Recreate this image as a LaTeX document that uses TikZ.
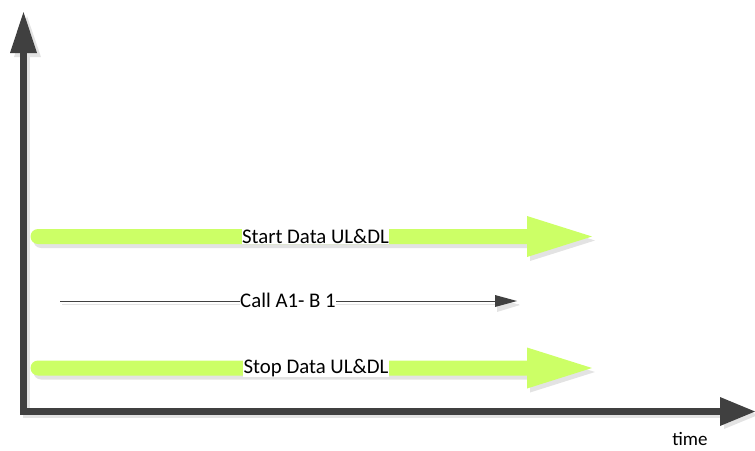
\documentclass[tikz,border=0pt]{standalone}
\usepackage{fontspec}
\setmainfont{Carlito}
\begin{document}
\begin{tikzpicture}[x=1pt,y=-1pt,
  axis/.style={draw=axisgray,line width=7pt},
  axishead/.style={fill=axisgray},
  shade/.style={fill=shadowgray},
  greenfill/.style={fill=lime},
  lbl/.style={fill=white,inner sep=0.5pt,font=\fontsize{20.8}{24}\selectfont},
  timelbl/.style={inner sep=0pt,font=\fontsize{19}{22}\selectfont}]
\definecolor{axisgray}{HTML}{404040}
\definecolor{shadowgray}{HTML}{E3E3E3}
\definecolor{lime}{HTML}{CCFF66}
\useasboundingbox (0,0) rectangle (755,450);
% coordinates
\coordinate (O) at (23,411);
\coordinate (Ytop) at (23,53);
\coordinate (Xend) at (721,411);
% axis shadows
\fill[shade] (23,415) rectangle (724,418);
\fill[shade] (27,53) rectangle (30,411);
\fill[shade] (14,57) -- (27,16) -- (41,57) -- cycle;
\fill[shade] (724,401) -- (758,415) -- (724,429) -- cycle;
% axes
\draw[axis] (Ytop) -- (O) -- (Xend);
\fill[axishead] (10,53) -- (23.5,12) -- (37,53) -- cycle;
\fill[axishead] (720,397) -- (755,411.5) -- (720,426) -- cycle;
% green arrows
\foreach \y/\n in {236.5/s, 368/t}{
  \fill[shade,shift={(3,4)}] (38,\y-7.5) -- (527,\y-7.5) -- (527,\y-20.5) -- (592,\y) -- (527,\y+20.5) -- (527,\y+7.5) -- (38,\y+7.5) arc (90:270:7.5) -- cycle;
  \fill[greenfill] (38,\y-7.5) -- (527,\y-7.5) -- (527,\y-20.5) -- (592,\y) -- (527,\y+20.5) -- (527,\y+7.5) -- (38,\y+7.5) arc (90:270:7.5) -- cycle;
  \coordinate (\n a) at (30,\y);
  \coordinate (\n b) at (592,\y);
}
\node[lbl] (start) at (315.5,236.5) {Start Data UL\&DL};
\node[lbl] (stop) at (316,368) {Stop Data UL\&DL};
% call line
\coordinate (ca) at (60,301);
\coordinate (cb) at (517,301);
\draw[shadowgray,line width=0.8pt] (62,304) -- (519,304);
\fill[shade] (497,298) -- (520,305) -- (497,312) -- cycle;
\draw[axisgray,line width=0.6pt] (ca) -- (496,301);
\fill[axishead] (495,295) -- (cb) -- (495,307) -- cycle;
\node[lbl] (call) at (288,300) {Call A1- B 1};
\node[timelbl] (time) at (690,439) {time};
\end{tikzpicture}
\end{document}
